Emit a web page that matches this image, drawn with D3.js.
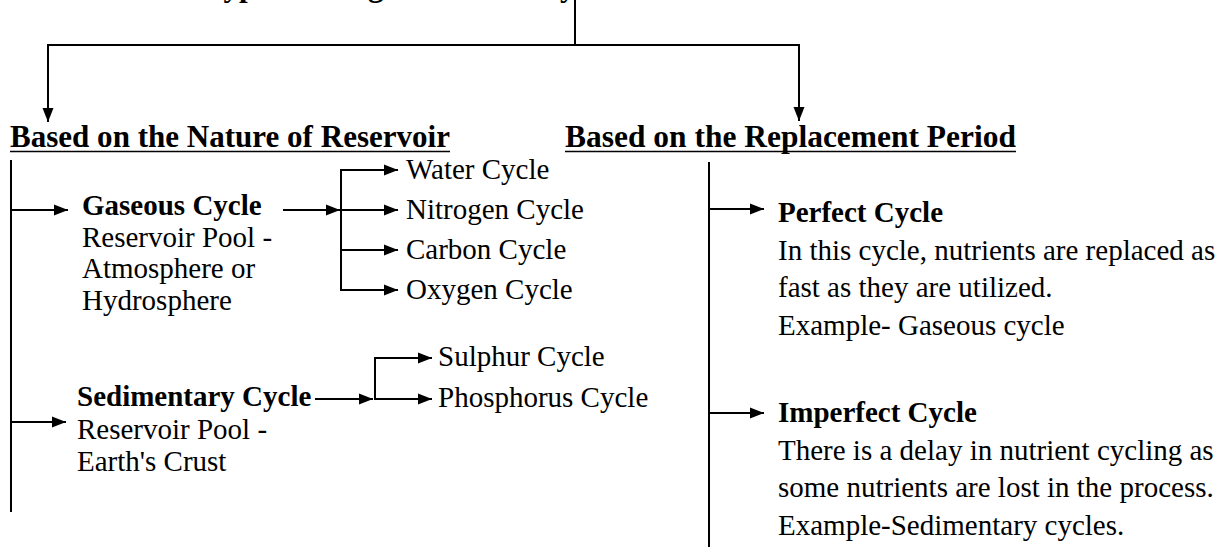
<!DOCTYPE html>
<html lang="en">
<head>
<meta charset="UTF-8">
<title>Types of Biogeochemical Cycles</title>
<script src="https://d3js.org/d3.v7.min.js"></script>
<style>
  body { margin: 0; background: #fff; }
  svg { display: block; font-family: "Liberation Serif", "Times New Roman", serif; }
  .head { font-weight: bold; font-size: 31px; }
  .bold { font-weight: bold; font-size: 29px; }
  .txt { font-size: 29px; }
</style>
</head>
<body>
<svg id="chart" width="1225" height="547"></svg>
<script>
// diagram content
const title = "Types of Biogeochemical Cycles";
const branches = ["Based on the Nature of Reservoir", "Based on the Replacement Period"];
const gaseousLines = ["Gaseous Cycle", "Reservoir Pool -", "Atmosphere or", "Hydrosphere"];
const gaseousKids = ["Water Cycle", "Nitrogen Cycle", "Carbon Cycle", "Oxygen Cycle"];
const sedimentLines = ["Sedimentary Cycle", "Reservoir Pool -", "Earth's Crust"];
const sedimentKids = ["Sulphur Cycle", "Phosphorus Cycle"];
const perfectLines = ["Perfect Cycle", "In this cycle, nutrients are replaced as",
  "fast as they are utilized.", "Example- Gaseous cycle"];
const imperfectLines = ["Imperfect Cycle", "There is a delay in nutrient cycling as",
  "some nutrients are lost in the process.", "Example-Sedimentary cycles."];

const svg = d3.select("#chart");

svg.append("defs").append("marker")
  .attr("id", "head")
  .attr("viewBox", "0 -6 14 12")
  .attr("refX", 14).attr("refY", 0)
  .attr("markerUnits", "userSpaceOnUse")
  .attr("markerWidth", 14).attr("markerHeight", 12)
  .attr("orient", "auto")
  .append("path").attr("d", "M0,-5.5L14,0L0,5.5Z").attr("fill", "#000");

const g = svg.append("g").attr("stroke", "#000").attr("stroke-width", 2).attr("fill", "none");

function line(x1, y1, x2, y2, arrow) {
  const l = g.append("line").attr("x1", x1).attr("y1", y1).attr("x2", x2).attr("y2", y2);
  if (arrow) l.attr("marker-end", "url(#head)");
  return l;
}

function lines(x, y0, step, arr) {
  arr.forEach((t, i) => {
    svg.append("text").attr("class", i === 0 ? "bold" : "txt")
      .attr("x", x).attr("y", y0 + i * step).text(t);
  });
}

// title sits above the frame, only its descenders show
svg.append("text").attr("class", "head")
  .attr("x", 205).attr("y", -4).text(title);

// top tree
line(575, 0, 575, 45);
line(47, 45, 800, 45);
line(48, 44, 48, 122, true);
line(799, 44, 799, 121, true);

// branch headers
const headX = [10, 565];
const headW = [440, 451];
branches.forEach((t, i) => {
  svg.append("text").attr("class", "head").attr("x", headX[i]).attr("y", 147)
    .attr("textLength", headW[i]).attr("lengthAdjust", "spacingAndGlyphs").text(t);
  g.append("line").attr("x1", headX[i]).attr("x2", headX[i] + headW[i])
    .attr("y1", 151.5).attr("y2", 151.5).attr("stroke-width", 1.6);
});

// left trunk
line(11, 160, 11, 512);
line(11, 210, 68, 210, true);
line(11, 422, 66, 422, true);

// gaseous block
lines(82, 215, 31.7, gaseousLines);
line(283, 210, 340, 210, true);
const yG = d3.scaleLinear().domain([0, gaseousKids.length - 1]).range([170, 290]);
line(341, yG(0) - 1, 341, yG(gaseousKids.length - 1) + 1);
gaseousKids.forEach((t, i) => {
  line(340, yG(i), 398, yG(i), true);
  svg.append("text").attr("class", "txt").attr("x", 406).attr("y", yG(i) + 8.5).text(t);
});

// sedimentary block
lines(77, 406, 32.5, sedimentLines);
line(315, 399, 373, 399, true);
const yS = d3.scaleLinear().domain([0, sedimentKids.length - 1]).range([358, 399]);
line(375, yS(0) - 1, 375, yS(sedimentKids.length - 1) + 1);
sedimentKids.forEach((t, i) => {
  line(374, yS(i), 432, yS(i), true);
  svg.append("text").attr("class", "txt").attr("x", 438).attr("y", yS(i) + 8).text(t);
});

// right trunk
line(709, 162, 709, 547);
line(709, 209, 764, 209, true);
line(709, 413, 764, 413, true);
lines(778, 222, 37.7, perfectLines);
lines(778, 422, 37.7, imperfectLines);
</script>
</body>
</html>
